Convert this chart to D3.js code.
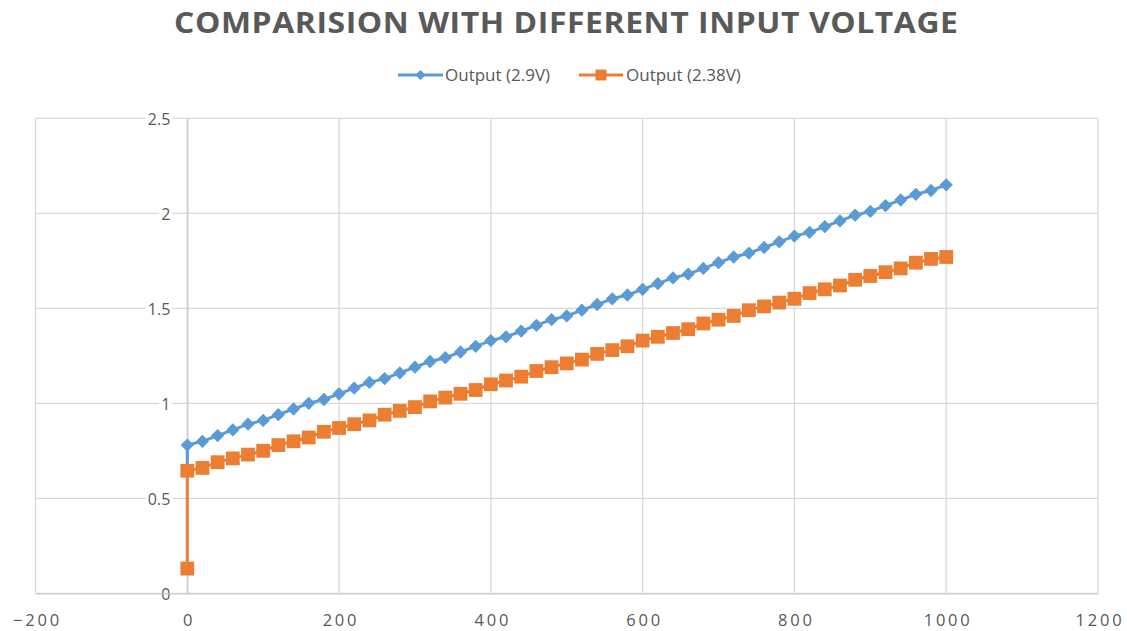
<!DOCTYPE html>
<html>
<head>
<meta charset="utf-8">
<script src="https://cdn.jsdelivr.net/npm/d3@7"></script>
<style>
  html, body { margin: 0; padding: 0; background: #ffffff; }
  svg { display: block; }
  text { font-family: "Open Sans", "Liberation Sans", sans-serif; fill: #595959; }
</style>
</head>
<body>
<svg id="chart" width="1127" height="631"></svg>
<script>
const title = "COMPARISION WITH DIFFERENT INPUT VOLTAGE";
const seriesNames = ["Output (2.9V)", "Output (2.38V)"];
const xTicks = [-200, 0, 200, 400, 600, 800, 1000, 1200];
const yTicks = [0, 0.5, 1, 1.5, 2, 2.5];

const xValues = [0, 0, 20, 40, 60, 80, 100, 120, 140, 160, 180, 200, 220, 240, 260, 280, 300,
  320, 340, 360, 380, 400, 420, 440, 460, 480, 500, 520, 540, 560, 580, 600, 620, 640,
  660, 680, 700, 720, 740, 760, 780, 800, 820, 840, 860, 880, 900, 920, 940, 960, 980, 1000];

const output29 = [0.64, 0.78, 0.80, 0.83, 0.86, 0.89, 0.91, 0.94, 0.97, 1.00, 1.02, 1.05, 1.08,
  1.11, 1.13, 1.16, 1.19, 1.22, 1.24, 1.27, 1.30, 1.33, 1.35, 1.38, 1.41, 1.44, 1.46,
  1.49, 1.52, 1.55, 1.57, 1.60, 1.63, 1.66, 1.68, 1.71, 1.74, 1.77, 1.79, 1.82, 1.85,
  1.88, 1.90, 1.93, 1.96, 1.99, 2.01, 2.04, 2.07, 2.10, 2.12, 2.15];

const output238 = [0.13, 0.645, 0.66, 0.69, 0.71, 0.73, 0.75, 0.78, 0.80, 0.82, 0.85, 0.87, 0.89,
  0.91, 0.94, 0.96, 0.98, 1.01, 1.03, 1.05, 1.07, 1.10, 1.12, 1.14, 1.17, 1.19, 1.21,
  1.23, 1.26, 1.28, 1.30, 1.33, 1.35, 1.37, 1.39, 1.42, 1.44, 1.46, 1.49, 1.51, 1.53,
  1.55, 1.58, 1.60, 1.62, 1.65, 1.67, 1.69, 1.71, 1.74, 1.76, 1.77];

const colors = ["#5B9BD5", "#ED7D31"];

const svg = d3.select("#chart");
const x = d3.scaleLinear().domain([-200, 1200]).range([35.5, 1098]);
const y = d3.scaleLinear().domain([0, 2.5]).range([593.3, 118.3]);

// Title
svg.append("text")
  .attr("transform", "translate(566,33) scale(1.12,1)")
  .attr("text-anchor", "middle")
  .attr("textLength", 784 / 1.12).attr("lengthAdjust", "spacing")
  .style("font-size", "28.5px").style("font-weight", "700")
  .style("fill", "#595959")
  .text(title);

// Gridlines
const grid = svg.append("g");
grid.selectAll("line.h").data(yTicks).join("line")
  .attr("x1", x(-200)).attr("x2", x(1200))
  .attr("y1", d => y(d)).attr("y2", d => y(d))
  .attr("stroke", "#d9d9d9").attr("stroke-width", 1.3);
grid.selectAll("line.v").data(xTicks).join("line")
  .attr("y1", y(0)).attr("y2", y(2.5))
  .attr("x1", d => x(d)).attr("x2", d => x(d))
  .attr("stroke", "#d9d9d9").attr("stroke-width", 1.3);

// Axes (Excel-like: y axis crosses at x=0)
const yAxis = d3.axisLeft(y).tickValues(yTicks).tickSize(0).tickPadding(0)
  .tickFormat(d3.format("~g"));
const yAxisG = svg.append("g").attr("transform", `translate(${x(0)},0)`).call(yAxis);
yAxisG.select(".domain").attr("stroke", "#c8c8c8").attr("stroke-width", 1.3);
yAxisG.selectAll(".tick text")
  .attr("x", -17).attr("dy", "0.36em")
  .style("font-size", "16px").style("fill", "#595959")
  .style("font-family", '"Open Sans", sans-serif');
yAxisG.selectAll(".tick").each(function() {
  const t = d3.select(this).select("text");
  const bb = t.node().getBBox();
  d3.select(this).insert("rect", "text")
    .attr("x", bb.x - 2).attr("y", bb.y + 2).attr("width", bb.width + 4).attr("height", bb.height - 4)
    .attr("fill", "#ffffff");
});

const xAxisReal = d3.axisBottom(x).tickValues(xTicks).tickSize(0).tickPadding(0)
  .tickFormat(d3.format("d"));
const xAxisG = svg.append("g").attr("transform", `translate(0,${y(0)})`).call(xAxisReal);
xAxisG.select(".domain").attr("stroke", "#c8c8c8").attr("stroke-width", 1.3);
xAxisG.selectAll(".tick text")
  .attr("y", 32.5).attr("dy", 0)
  .attr("dx", "1.4px")
  .style("letter-spacing", "2.8px")
  .style("font-size", "16.5px").style("fill", "#595959")
  .style("font-family", '"Open Sans", sans-serif');

// Series
const diamond = d3.symbol().type(d3.symbolSquare).size(88);
const square = d3.symbol().type(d3.symbolSquare).size(190);
const series = [
  { name: seriesNames[0], values: output29, color: colors[0], sym: diamond, rot: 45 },
  { name: seriesNames[1], values: output238, color: colors[1], sym: square, rot: 0 }
];

const line = d3.line().x(d => x(d[0])).y(d => y(d[1]));

series.forEach(s => {
  const pts = xValues.map((xv, i) => [xv, s.values[i]]);
  const g = svg.append("g");
  g.append("path").datum(pts)
    .attr("d", line).attr("fill", "none")
    .attr("stroke", s.color).attr("stroke-width", 3)
    .attr("stroke-linejoin", "round");
  g.selectAll("path.m").data(pts).join("path")
    .attr("class", "m")
    .attr("transform", d => `translate(${x(d[0])},${y(d[1])}) rotate(${s.rot})`)
    .attr("d", s.sym)
    .attr("fill", s.color);
});

// Legend
const legend = svg.append("g");
const legendItems = [
  { x1: 398, x2: 443, tx: 445, s: series[0], size: 50 },
  { x1: 579, x2: 623, tx: 626, s: series[1], size: 120 }
];
legendItems.forEach(it => {
  legend.append("line")
    .attr("x1", it.x1).attr("x2", it.x2).attr("y1", 75).attr("y2", 75)
    .attr("stroke", it.s.color).attr("stroke-width", 3);
  legend.append("path")
    .attr("transform", `translate(${(it.x1 + it.x2) / 2},75) rotate(${it.s.rot})`)
    .attr("d", d3.symbol().type(d3.symbolSquare).size(it.size))
    .attr("fill", it.s.color);
  legend.append("text")
    .attr("x", it.tx).attr("y", 75).attr("dy", "0.35em")
    .style("font-size", "17px").style("fill", "#595959")
    .text(it.s.name);
});
</script>
</body>
</html>
